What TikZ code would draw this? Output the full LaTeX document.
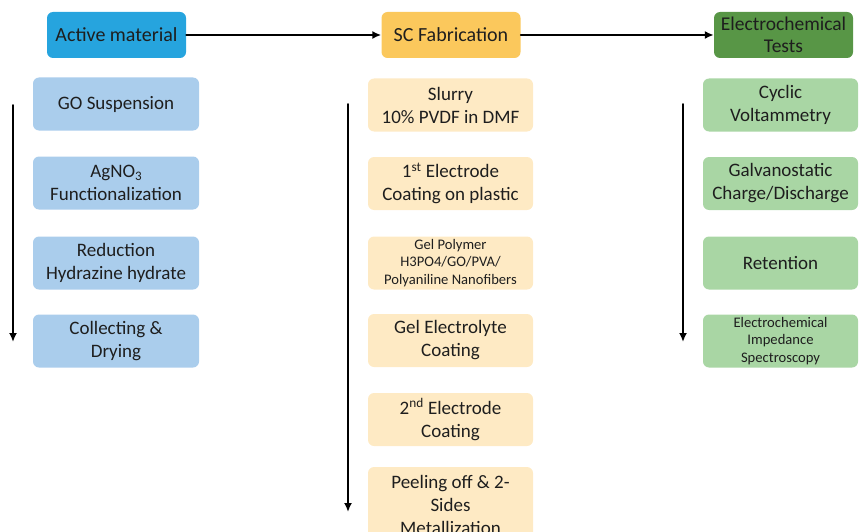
\documentclass[tikz,border=0pt]{standalone}
\usepackage{fontspec}
\setmainfont{Carlito}
\usetikzlibrary{arrows.meta}
\definecolor{headblue}{RGB}{38,164,222}
\definecolor{headorange}{RGB}{251,200,92}
\definecolor{headgreen}{RGB}{88,150,70}
\definecolor{stepblue}{RGB}{170,205,236}
\definecolor{stepyellow}{RGB}{254,234,196}
\definecolor{stepgreen}{RGB}{169,214,164}
\definecolor{txt}{RGB}{30,30,30}

\begin{document}
\begin{tikzpicture}[x=1pt, y=-1pt, line join = round, line cap = round,
  box/.style={rounded corners=6pt, align=center, text=txt, inner sep=0pt,
    font=\fontsize{19}{23}\selectfont},
  head/.style={box, minimum width=139pt, minimum height=46pt, font=\fontsize{20}{23}\selectfont},
  stepbox/.style={box, minimum height=53pt},
  small/.style={font=\fontsize{14.6}{17.8}\selectfont},
  flow/.style={line width=1.8pt, -{Latex[length=9pt,width=8pt]}}]
\useasboundingbox (0,0) rectangle (861,532);
\clip (0,0) rectangle (861,532);

% headers
\node[head, fill=headblue] (active) at (116.5,35) {Active material};
\node[head, fill=headorange] (fab) at (451,35) {SC Fabrication};
\node[head, fill=headgreen, font=\fontsize{19.5}{22}\selectfont] (tests) at (783.5,35) {Electrochemical\\Tests};

\draw[flow] (active) -- (fab);
\draw[flow] (fab) -- (tests);

% active material
\node[stepbox, fill=stepblue, minimum width=166pt] (go) at (116,104) {GO Suspension};
\node[stepbox, fill=stepblue, minimum width=166pt] (agno) at (116,183) {AgNO\raisebox{-0.3ex}{\fontsize{13}{13}\selectfont 3}\\Functionalization};
\node[stepbox, fill=stepblue, minimum width=166pt] (reduc) at (116,263) {Reduction\\Hydrazine hydrate};
\node[stepbox, fill=stepblue, minimum width=166pt] (dry) at (116,341) {Collecting \&\\Drying};
\coordinate (a1) at (13,105);
\coordinate (a2) at (13,342);
\draw[flow] (a1) -- (a2);

% fabrication
\node[stepbox, fill=stepyellow, minimum width=165pt] (slurry) at (450.5,105) {Slurry\\10\% PVDF in DMF};
\node[stepbox, fill=stepyellow, minimum width=165pt] (elec1) at (450.5,183.5) {1\textsuperscript{st} Electrode\\Coating on plastic};
\node[stepbox, fill=stepyellow, minimum width=165pt, small] (gel) at (450.5,263) {Gel Polymer\\H3PO4/GO/PVA/\\Polyaniline Nanofibers};
\node[stepbox, fill=stepyellow, minimum width=165pt] (gelcoat) at (450.5,340.5) {Gel Electrolyte\\Coating};
\node[stepbox, fill=stepyellow, minimum width=165pt] (elec2) at (450.5,419.5) {2\textsuperscript{nd} Electrode\\Coating};
\node[box, fill=stepyellow, minimum width=165pt, minimum height=76pt] (peel) at (450.5,505) {Peeling off \& 2-\\Sides\\Metallization};
\coordinate (b1) at (348,104);
\coordinate (b2) at (348,512);
\draw[flow] (b1) -- (b2);

% tests
\node[stepbox, fill=stepgreen, minimum width=155pt] (cv) at (780.5,105) {Cyclic\\Voltammetry};
\node[stepbox, fill=stepgreen, minimum width=155pt] (gcd) at (780.5,183.5) {Galvanostatic\\Charge/Discharge};
\node[stepbox, fill=stepgreen, minimum width=155pt] (ret) at (780.5,263) {Retention};
\node[stepbox, fill=stepgreen, minimum width=155pt, small] (eis) at (780.5,341) {Electrochemical\\Impedance\\Spectroscopy};
\coordinate (c1) at (683,104);
\coordinate (c2) at (683,342);
\draw[flow] (c1) -- (c2);
\end{tikzpicture}
\end{document}
